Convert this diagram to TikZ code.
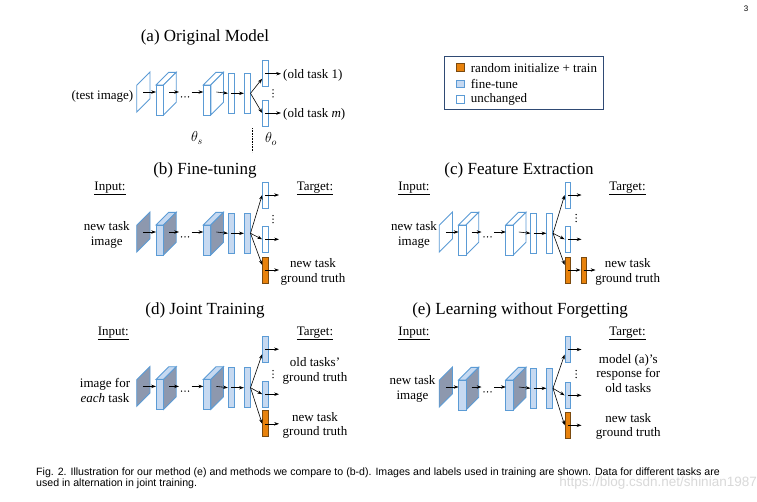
\documentclass[tikz,border=0pt]{standalone}
\usepackage{fontspec}
\setmainfont{Liberation Serif}
\newfontfamily\capfont{Liberation Sans}
\usetikzlibrary{arrows.meta,calc}
\definecolor{ublue}{HTML}{5B9BD5}
\definecolor{lblue}{HTML}{C6D9F1}
\definecolor{sgray}{HTML}{8D98AE}
\definecolor{orng}{HTML}{E8820C}
\definecolor{orngd}{HTML}{7A4A10}
\definecolor{navy}{HTML}{2F4A74}
\tikzset{
 lay/.style={draw=ublue, line width=0.9pt, line join=miter},
 fc/.style={lay, rectangle, inner sep=0pt, minimum width=5.7pt, minimum height=40pt},
 head/.style={lay, rectangle, inner sep=0pt, minimum width=5.4pt, minimum height=26pt},
 newhead/.style={draw=orngd, fill=orng, line width=0.8pt, rectangle, inner sep=0pt, minimum width=5.4pt, minimum height=26pt},
 conn/.style={-{Stealth[length=4.8pt,width=3.4pt]}, line width=0.6pt, black},
 ttl/.style={font=\fontsize{17}{20}\selectfont, inner sep=0pt},
 lbl/.style={font=\fontsize{13}{14.5}\selectfont, inner sep=0pt, align=center},
 legsq/.style={rectangle, minimum size=7.3pt, inner sep=0pt, line width=0.8pt},
 capt/.style={font=\capfont\fontsize{10.6}{12}\selectfont, inner sep=0pt, anchor=west},
}
\newcommand{\cubebox}[4]{%
 \filldraw[lay, fill=#2] (#1,-7) -- ++(12.7,-12.7) -- ++(7.5,0) -- ++(-12.7,12.7) -- cycle;
 \filldraw[lay, fill=#3] (#1+7.5,-7) -- ++(12.7,-12.7) -- ++(0,30) -- ++(-12.7,12.7) -- cycle;
 \filldraw[lay, fill=#2] (#1,-7) rectangle (#1+7.5,23);
 \coordinate (#4w) at (#1,0);
 \coordinate (#4c) at (#1+13,0);
}
\newcommand{\netbody}[5]{%
 \filldraw[lay, fill=#2] (136.7,-6.7) -- (150,-20) -- (150,6.7) -- (136.7,20) -- cycle;
 \coordinate (#1pl) at (143.4,0);
 \cubebox{156}{#3}{#4}{#1b1}
 \cubebox{203.3}{#3}{#4}{#1b2}
 \node[fc, fill=#5] (#1f1) at (231.2,1.3) {};
 \node[fc, fill=#5] (#1f2) at (247.2,1.3) {};
 \coordinate (#1d1) at (179,0);
 \coordinate (#1d2) at (191.7,0);
 \foreach \xx in {181.5,185,188.5} \fill (\xx,4.8) circle[radius=0.75pt];
 \draw[conn] (#1pl) -- (#1b1w);
 \draw[conn] (#1b1c) -- (#1d1);
 \draw[conn] (#1d2) -- (#1b2w);
 \draw[conn] (#1b2c) -- (#1f1.west);
 \draw[conn] (#1f1.center) -- (#1f2.west);
}
\newcommand{\vdotsat}[2]{\foreach \yy in {-3.5,0,3.5} \fill (#1,#2+\yy) circle[radius=0.75pt];}
\begin{document}
\begin{tikzpicture}[x=1pt,y=-1pt]
\fill[white] (0,0) rectangle (757,501);
\useasboundingbox (0,0) rectangle (757,501);

% ---------- (a) ----------
\node[ttl] (ta) at (205,37) {(a) Original Model};
\begin{scope}[shift={(0,92)}]
 \netbody{a}{white}{white}{white}{white}
 \node[head, fill=white] (ah1) at (265.3,-18.3) {};
 \node[head, fill=white] (ahm) at (265.3,21) {};
 \draw[conn] (af2.east) -- ($(ah1.west)+(0,5)$);
 \draw[conn] (af2.east) -- (ahm.west);
 \coordinate (ao1) at (281,-18.3);
 \coordinate (aom) at (281,21);
 \draw[conn] (ah1.center) -- (ao1);
 \draw[conn] (ahm.center) -- (aom);
 \vdotsat{273}{1.3}
\end{scope}
\node[lbl, anchor=east] (ina) at (133.5,96) {(test image)};
\node[lbl, anchor=west] (oa1) at (283,75.7) {(old task 1)};
\node[lbl, anchor=west] (oam) at (283,114) {(old task \textit{m})};
\node[font=\fontsize{14}{16}\selectfont, inner sep=0pt] (ths) at (197,138) {$\theta_s$};
\node[font=\fontsize{14}{16}\selectfont, inner sep=0pt] (tho) at (271,139) {$\theta_o$};
\draw[densely dotted, line width=0.6pt] (252.7,128) -- (252.7,152);

% ---------- legend ----------
\node[draw=navy, line width=0.9pt, minimum width=159pt, minimum height=53pt, inner sep=0pt] (leg) at (523.7,82.7) {};
\node[legsq, draw=orngd, fill=orng] (l1) at (460.3,67.3) {};
\node[legsq, draw=ublue, fill=lblue] (l2) at (460.3,84) {};
\node[legsq, draw=ublue, fill=white] (l3) at (460.3,99.5) {};
\node[lbl, anchor=west] (lt1) at (470.7,68.3) {random initialize + train};
\node[lbl, anchor=west] (lt2) at (470.7,83.8) {fine-tune};
\node[lbl, anchor=west] (lt3) at (470.7,99) {unchanged};

% ---------- (b) ----------
\node[ttl] (tb) at (205,170) {(b) Fine-tuning};
\begin{scope}[shift={(0,232)}]
 \netbody{b}{sgray}{lblue}{sgray}{lblue}
 \node[head, fill=white] (bh1) at (265.3,-37) {};
 \node[head, fill=white] (bhm) at (265.3,7.3) {};
 \node[newhead] (bhn) at (265.3,38) {};
 \draw[conn] (bf2.east) -- (bh1.west);
 \draw[conn] (bf2.east) -- (bhm.west);
 \draw[conn] (bf2.east) -- ($(bhn.west)+(0,-5)$);
 \coordinate (bo1) at (279,-37);
 \coordinate (bom) at (279,7.3);
 \coordinate (bon) at (279,38);
 \draw[conn] (bh1.center) -- (bo1);
 \draw[conn] (bhm.center) -- (bom);
 \draw[conn] (bhn.center) -- (bon);
 \vdotsat{273}{-13}
\end{scope}
\node[lbl] (bin) at (110,188.3) {\underline{Input:}};
\node[lbl] (btg) at (315,188.3) {\underline{Target:}};
\node[lbl] (bim) at (106.7,235) {new task\\image};
\node[lbl] (bgt) at (313,271.7) {new task\\ground truth};

% ---------- (c) ----------
\node[ttl] (tc) at (519,170) {(c) Feature Extraction};
\begin{scope}[shift={(302.5,232)}]
 \netbody{c}{white}{white}{white}{white}
 \node[head, fill=white] (ch1) at (265.3,-37) {};
 \node[head, fill=white] (chm) at (265.3,7.3) {};
 \node[newhead] (cn1) at (265.3,38) {};
 \node[newhead] (cn2) at (281.2,38) {};
 \draw[conn] (cf2.east) -- (ch1.west);
 \draw[conn] (cf2.east) -- (chm.west);
 \draw[conn] (cf2.east) -- ($(cn1.west)+(0,-5)$);
 \coordinate (co1) at (279,-37);
 \coordinate (com) at (279,7.3);
 \coordinate (con) at (293,38);
 \draw[conn] (ch1.center) -- (co1);
 \draw[conn] (chm.center) -- (com);
 \draw[conn] (cn1.center) -- (cn2.west);
 \draw[conn] (cn2.center) -- (con);
 \vdotsat{273.5}{-14}
\end{scope}
\node[lbl] (cin) at (414,188.3) {\underline{Input:}};
\node[lbl] (ctg) at (627.5,188.3) {\underline{Target:}};
\node[lbl] (cim) at (414,235) {new task\\image};
\node[lbl] (cgt) at (627.7,271.7) {new task\\ground truth};

% ---------- (d) ----------
\node[ttl] (td) at (205,310) {(d) Joint Training};
\begin{scope}[shift={(0,386.4)}]
 \netbody{d}{sgray}{lblue}{sgray}{lblue}
 \node[head, fill=lblue] (dh1) at (265.3,-37.2) {};
 \node[head, fill=lblue] (dhm) at (265.3,7.8) {};
 \node[newhead] (dhn) at (265.3,37.4) {};
 \draw[conn] (df2.east) -- ($(dh1.west)+(0,5)$);
 \draw[conn] (df2.east) -- (dhm.west);
 \draw[conn] (df2.east) -- (dhn.west);
 \coordinate (do1) at (279,-37.2);
 \coordinate (dom) at (279,7.8);
 \coordinate (don) at (279,37.4);
 \draw[conn] (dh1.center) -- (do1);
 \draw[conn] (dhm.center) -- (dom);
 \draw[conn] (dhn.center) -- (don);
 \vdotsat{273}{-12.4}
\end{scope}
\node[lbl] (din) at (113.3,333.3) {\underline{Input:}};
\node[lbl] (dtg) at (315,333.3) {\underline{Target:}};
\node[lbl] (dim) at (105,390.5) {image for\\\textit{each} task};
\node[lbl] (dgo) at (315,370.8) {old tasks’\\ground truth};
\node[lbl] (dgt) at (315,425.3) {new task\\ground truth};

% ---------- (e) ----------
\node[ttl] (te) at (520,310) {(e) Learning without Forgetting};
\begin{scope}[shift={(302.5,387)}]
 \netbody{e}{sgray}{lblue}{sgray}{lblue}
 \node[head, fill=lblue] (eh1) at (265.3,-37.5) {};
 \node[head, fill=lblue] (ehm) at (265.3,8.3) {};
 \node[newhead] (ehn) at (265.3,38.3) {};
 \draw[conn] (ef2.east) -- ($(eh1.west)+(0,5)$);
 \draw[conn] (ef2.east) -- (ehm.west);
 \draw[conn] (ef2.east) -- (ehn.west);
 \coordinate (eo1) at (279,-37.5);
 \coordinate (eom) at (279,8.3);
 \coordinate (eon) at (279,38.3);
 \draw[conn] (eh1.center) -- (eo1);
 \draw[conn] (ehm.center) -- (eom);
 \draw[conn] (ehn.center) -- (eon);
 \vdotsat{273.5}{-13}
\end{scope}
\node[lbl] (ein) at (414,333.3) {\underline{Input:}};
\node[lbl] (etg) at (627.5,333.3) {\underline{Target:}};
\node[lbl] (eim) at (412.5,389) {new task\\image};
\node[lbl] (ego) at (628.3,373.3) {model (a)’s\\response for\\old tasks};
\node[lbl] (egt) at (628.3,426.3) {new task\\ground truth};

% ---------- page number, caption, watermark ----------
\node[font=\capfont\fontsize{8}{9}\selectfont, inner sep=0pt] (pg) at (746,8.5) {3};
\node[capt] (cap1) at (36,472.7) {Fig. 2. Illustration for our method (e) and methods we compare to (b-d). Images and labels used in training are shown. Data for different tasks are};
\node[capt] (cap2) at (36,484.2) {used in alternation in joint training.};
\node[font=\capfont\fontsize{13.5}{15}\selectfont, text=black!15, anchor=east, inner sep=0pt] (wm) at (757,483.5) {https://blog.csdn.net/shinian1987};
\end{tikzpicture}
\end{document}
